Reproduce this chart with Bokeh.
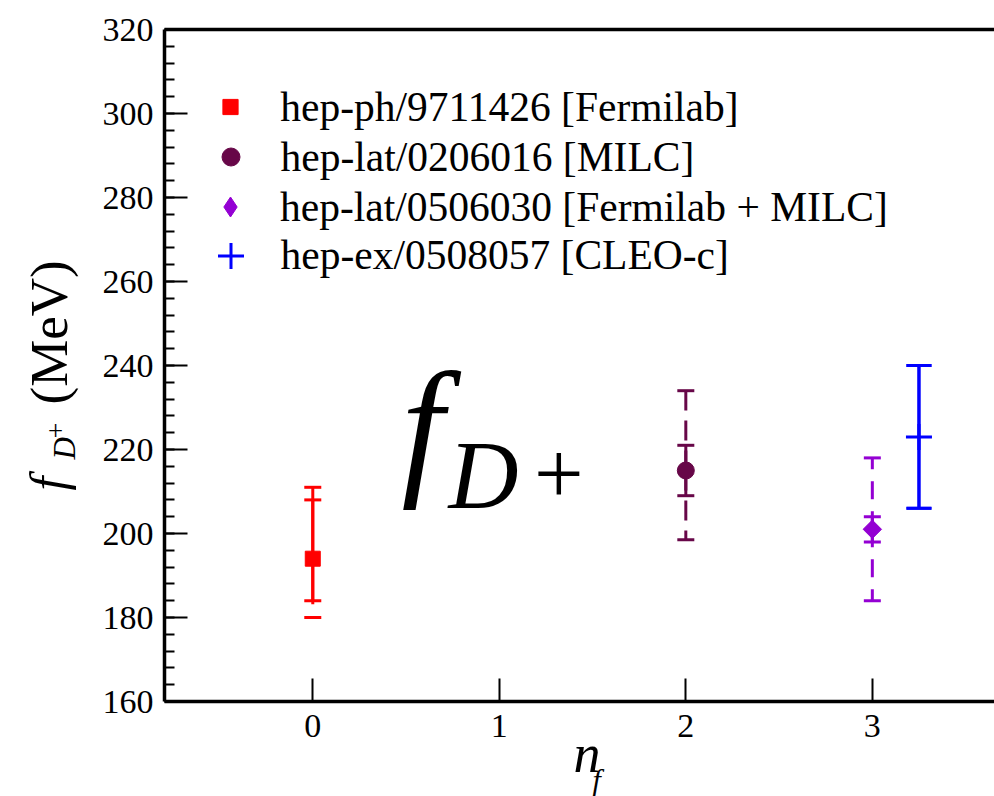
import math
from bokeh.plotting import figure
from bokeh.models import (Range1d, LinearAxis, SingleIntervalTicker, FixedTicker,
                          Label, Legend, LegendItem)
from bokeh.core.properties import value
from bokeh.embed import file_html
from bokeh.resources import INLINE

# ---------------- data ----------------
series_labels = ["hep-ph/9711426 [Fermilab]", "hep-lat/0206016 [MILC]",
                 "hep-lat/0506030 [Fermilab + MILC]", "hep-ex/0508057 [CLEO-c]"]
nf = [0, 2, 3, 3.25]
fD = [194, 215, 201, 223]
stat_lo = [184, 209, 198, 206]
stat_hi = [208, 221, 204, 240]
tot_lo = [180, 198.5, 184, 206]
tot_hi = [211, 234, 218, 240]
x_ticks = [0, 1, 2, 3]

# ---------------- style ----------------
colors = ["#ff0000", "#670748", "#9400d3", "#0000ff"]
FONT = "Liberation Serif"
X0, X1 = -0.795, 3.655
Y0, Y1 = 160, 320
W, H = 994, 796
BL, BR, BT, BB = 164, 0, 29, 95
FL, FT = BL, BT
FW, FH = W - BL - BR, H - BT - BB


def dx(px):
    return X0 + (px - FL) * (X1 - X0) / FW


def dy(py):
    return Y1 - (py - FT) * (Y1 - Y0) / FH


p = figure(width=W, height=H, output_backend="svg", toolbar_location=None,
           x_range=Range1d(X0, X1), y_range=Range1d(Y0, Y1),
           min_border_left=BL, min_border_right=BR, min_border_top=BT, min_border_bottom=BB)
p.grid.visible = False
p.outline_line_color = None
p.background_fill_color = "white"
p.border_fill_color = "white"

ya = p.yaxis[0]
ya.ticker = SingleIntervalTicker(interval=20, num_minor_ticks=5)
ya.axis_line_width = 3.5
ya.major_tick_in = 23
ya.major_tick_out = 0
ya.minor_tick_in = 10
ya.minor_tick_out = 0
ya.major_tick_line_width = 2
ya.minor_tick_line_width = 2
ya.major_label_text_font = FONT
ya.major_label_text_font_size = "34px"
ya.major_label_text_color = "black"
ya.major_label_standoff = 11

xa = p.xaxis[0]
xa.ticker = FixedTicker(ticks=x_ticks)
xa.axis_line_width = 3.5
xa.major_tick_in = 23
xa.major_tick_out = 0
xa.minor_tick_line_color = None
xa.major_tick_line_width = 2
xa.major_label_text_font = FONT
xa.major_label_text_font_size = "34px"
xa.major_label_text_color = "black"
xa.major_label_standoff = 13

top = LinearAxis(ticker=FixedTicker(ticks=[]), axis_line_width=3.5,
                 major_tick_in=0, major_tick_out=0, minor_tick_in=0, minor_tick_out=0,
                 major_label_standoff=0, major_label_text_font_size="0px")
p.add_layout(top, "above")

# ---------------- error bars ----------------
dashes = ["117 20", "20 10", "18 12", "solid"]
cap_sizes = [17, 17, 17, 25]
for i in range(4):
    c = colors[i]
    if i == 0:
        p.segment(x0=[nf[i]], y0=[tot_hi[i]], x1=[nf[i]], y1=[tot_lo[i]],
                  line_color=c, line_width=3, line_dash=dashes[i])
    else:
        p.segment(x0=[nf[i], nf[i]], y0=[fD[i], fD[i]], x1=[nf[i], nf[i]],
                  y1=[tot_hi[i], tot_lo[i]], line_color=c, line_width=3, line_dash=dashes[i])
    p.segment(x0=[nf[i]], y0=[stat_hi[i]], x1=[nf[i]], y1=[stat_lo[i]],
              line_color=c, line_width=3)
    p.scatter(x=[nf[i]] * 4, y=[tot_lo[i], tot_hi[i], stat_lo[i], stat_hi[i]],
              marker="dash", size=cap_sizes[i], line_color=c, line_width=3)

# ---------------- markers ----------------
r0 = p.scatter(x=[nf[0]], y=[fD[0]], marker="square", size=15, fill_color=colors[0], line_color=colors[0])
r1 = p.scatter(x=[nf[1]], y=[fD[1]], marker="circle", size=17, fill_color=colors[1], line_color=colors[1])
r2 = p.scatter(x=[nf[2]], y=[fD[2]], marker="diamond", size=16,
               fill_color=colors[2], line_color=colors[2])
p.scatter(x=[nf[2]], y=[fD[2]], marker="square", angle=math.pi / 4, size=13,
          fill_color=colors[2], line_color=colors[2])
r3 = p.scatter(x=[nf[3]], y=[fD[3]], marker="cross", size=26, line_color=colors[3], line_width=3)
rends = [r0, r1, r2, r3]

# ---------------- legend (one box per row) ----------------
row_centers = [106.8, 156.7, 206.5, 255.2]
glyph_w = [37.5, 45, 50, 65]
RH = 65
for i in range(4):
    gw = glyph_w[i]
    left = 230 - gw / 2
    leg = Legend(items=[LegendItem(label=series_labels[i], renderers=[rends[i]])],
                 location=(left - FL, (FT + FH) - (row_centers[i] + RH / 2)),
                 glyph_width=int(round(gw)), glyph_height=RH, label_height=RH,
                 label_standoff=int(round(50 - gw / 2)), spacing=0, padding=0, margin=0,
                 border_line_color=None, background_fill_alpha=0,
                 label_text_font=FONT, label_text_font_size="41.5px", label_text_color="black")
    p.add_layout(leg, "center")

# ---------------- texts ----------------
K = 0.345  # observed anchor-to-baseline offset, in em


def anchor(px, base, size, angle):
    if angle == 0.0:
        return px, base - K * size
    return base - K * size, px


def lab(px, base, text, size, italic=True):
    ax, ay = anchor(px, base, size, 0.0)
    p.add_layout(Label(x=dx(ax), y=dy(ay), text=text, text_font=FONT,
                       text_font_style="italic" if italic else "normal",
                       text_font_size=f"{size}px", text_color="black",
                       text_align="left", text_baseline="alphabetic"))


def outer_text(px, base, text, size, italic=True, angle=0.0):
    ax, ay = anchor(px, base, size, angle)
    p.text(x=[dx(ax)], y=[dy(ay)], text=[text], text_font=value(FONT),
           text_font_style="italic" if italic else "normal",
           text_font_size=f"{size}px", text_color="black", angle=angle,
           text_align="left", text_baseline="alphabetic", level="overlay")


# big f_{D+}
lab(401, 425 + K * 152, "f", 152)
lab(448, 508, "D", 97)
lab(533.5, 473 + K * 88, "+", 88, italic=False)

# y axis label  f_{D+} (MeV)   (rotated: px = start along the text, base = baseline x)
A = math.pi / 2
outer_text(490, 65, "f", 50, angle=A)
outer_text(459, 75, "D", 31, angle=A)
outer_text(438, 65, "+", 28, italic=False, angle=A)
outer_text(404, 67, "(MeV)", 53, italic=False, angle=A)

# x axis label n_f
outer_text(573, 772, "n", 54)
outer_text(592, 768 + 0.361 * 30 + K * 30, "f", 30)

open("out.html", "w").write(file_html(p, INLINE))
